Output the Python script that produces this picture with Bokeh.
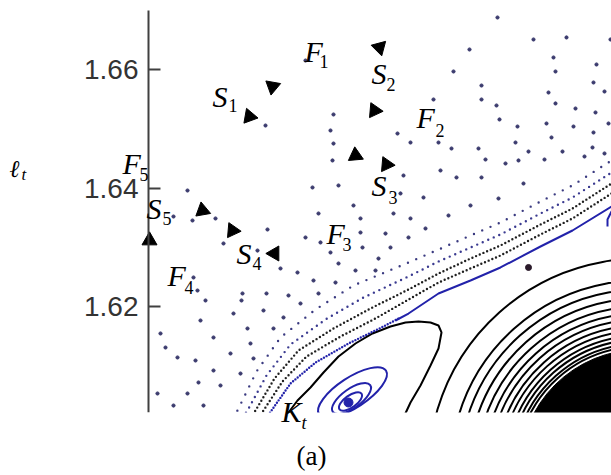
from bokeh.plotting import figure
from bokeh.models import Range1d, FixedTicker, Label, LinearAxis, BoxAnnotation
from bokeh.embed import file_html
from bokeh.resources import INLINE

# ---------------- data (x: unlabelled horizontal coordinate, l: ell_t) ----------------
# y-axis ticks and extent of the drawn axis
tick_values = [1.62, 1.64, 1.66]
tick_labels = ["1.62", "1.64", "1.66"]
axis_bounds = (1.60211, 1.66996)
axis_x = 148

# separatrix: dotted (blue) part and solid (blue) part
sep_dotted_x = [266, 271, 290, 315, 348, 381, 400]
sep_dotted_l = [1.60127, 1.60245, 1.60701, 1.61055, 1.61376, 1.61646, 1.61815]
sep_solid_x = [395, 408, 438, 470, 500, 540, 572, 611, 615]
sep_solid_l = [1.61764, 1.61882, 1.62220, 1.62439, 1.62659, 1.63013, 1.63283, 1.63688, 1.63739]

# dense orbits parallel to the separatrix
d2_x = [258, 263, 282, 306, 340, 375, 408, 438, 470, 500, 540, 572, 611, 615]
d2_l = [1.60127, 1.60245, 1.60735, 1.61156, 1.61494, 1.61798, 1.62118, 1.62405, 1.62642,
        1.62861, 1.63216, 1.63486, 1.63908, 1.63958]
d3_x = [250, 255, 274, 298, 333, 370, 408, 438, 470, 500, 540, 572, 611, 615]
d3_l = [1.60127, 1.60245, 1.60785, 1.61258, 1.61629, 1.61967, 1.62287, 1.62557, 1.62810,
        1.63030, 1.63384, 1.63654, 1.64076, 1.64127]
d4_x = [242, 247, 266, 290, 325, 363, 408, 438, 470, 500, 540, 572, 611, 615]
d4_l = [1.60127, 1.60245, 1.60836, 1.61359, 1.61781, 1.62152, 1.62507, 1.62760, 1.62996,
        1.63216, 1.63570, 1.63840, 1.64262, 1.64313]
d5_x = [231, 237, 256, 280, 315, 353, 408, 438, 470, 500, 540, 572, 611, 615]
d5_l = [1.60127, 1.60245, 1.60903, 1.61477, 1.61950, 1.62355, 1.62743, 1.62962, 1.63199,
        1.63418, 1.63773, 1.64043, 1.64465, 1.64515]

# sparse orbit points
sparse_x = [157, 173, 187, 198, 203, 220, 213, 230, 160, 165, 177, 195, 213, 200, 205, 197,
            193, 233, 247, 241, 266, 263, 250, 273, 283, 240, 253, 300, 318, 335, 355, 375,
            187, 173, 192, 215, 223, 257, 267, 280, 297, 242, 288, 265, 330, 333, 332, 312,
            338, 353, 318, 360, 305, 320, 330, 360, 362, 338, 313, 403, 400, 393, 385, 390,
            378, 410, 408, 425, 423, 440, 397, 410, 438, 333, 305,
            497, 533, 566, 610, 469, 553, 453, 555, 596, 481, 548, 593, 604, 433, 481, 496,
            555, 575, 595, 499, 517, 546, 573, 593, 608, 451, 478, 515, 528, 551, 562, 456,
            481, 505, 518, 485, 544, 584, 592, 604, 498, 523, 470, 448]
sparse_l = [1.60532, 1.60329, 1.60532, 1.60718, 1.60329, 1.60667, 1.60920, 1.61207, 1.61545,
            1.61308, 1.61140, 1.61089, 1.61477, 1.61764, 1.62102, 1.62270, 1.62490, 1.61882,
            1.61629, 1.62102, 1.62220, 1.61933, 1.61376, 1.61629, 1.61815, 1.60869, 1.61123,
            1.62051, 1.62220, 1.62405, 1.62608, 1.62608,
            1.63958, 1.63519, 1.63452, 1.63486, 1.63064, 1.62945, 1.63300, 1.62642, 1.62574,
            1.62220, 1.62186, 1.65055, 1.64971, 1.64751, 1.64465, 1.64009, 1.64043, 1.63705,
            1.63570, 1.63486, 1.63165, 1.63081, 1.62912, 1.63249, 1.62996, 1.62726, 1.62439,
            1.64211, 1.63908, 1.63570, 1.63232, 1.62996, 1.62810, 1.63486, 1.63165, 1.63317,
            1.63840, 1.64296, 1.64920, 1.64768, 1.64768, 1.65241, 1.66152,
            1.66878, 1.66507, 1.66541, 1.66507, 1.66338, 1.66203, 1.65967, 1.65967, 1.66085,
            1.65730, 1.65612, 1.65781, 1.65629, 1.65494, 1.65494, 1.65393, 1.65427, 1.65342,
            1.65275, 1.65157, 1.65038, 1.65089, 1.65038, 1.64937, 1.65089, 1.64667, 1.64667,
            1.64768, 1.64616, 1.64853, 1.64616, 1.64178, 1.64178, 1.64414, 1.64465, 1.64481,
            1.64481, 1.64532, 1.64684, 1.64583, 1.63823, 1.64076, 1.63705, 1.63536]

# black level curve around the blue island
loop_x = [284, 288, 297, 310, 323, 338, 355, 372, 390, 405, 418, 430, 438, 441, 438, 430,
          420, 410, 403]
loop_l = [1.60127, 1.60211, 1.60414, 1.60633, 1.60886, 1.61156, 1.61376, 1.61545, 1.61663,
          1.61730, 1.61747, 1.61730, 1.61680, 1.61562, 1.61291, 1.61005, 1.60667, 1.60380,
          1.60127]

# concentric black level curves around the lower-right centre
arc_cx = 640
arc_cl = 1.59232
arc_r = [212, 190, 181, 172, 164, 157, 151, 145, 140, 135, 131, 127, 124]
core_r = [121]

# blue island (nested closed curves)
isl_x = [352, 351, 350]
isl_l = [1.60549, 1.60448, 1.60397]
isl_w = [80, 46, 27]
isl_h = [30, 19, 12]
isl_a = [0.58, 0.62, 0.62]
isl_core_x = [348]
isl_core_l = [1.60380]

# small blue curve at the right edge and isolated point
hook_x = [607, 607, 611, 613]
hook_l = [1.63351, 1.63469, 1.63604, 1.63660]
pt_x = [528]
pt_l = [1.62659]

# flow-direction arrows near the saddles (direction in degrees, counter-clockwise)
arrow_x = [379, 374, 272, 249, 355, 386, 232, 274, 149, 202]
arrow_l = [1.66372, 1.65308, 1.65713, 1.65207, 1.64549, 1.64397, 1.63283, 1.62895,
           1.63114, 1.63621]
arrow_dir = [-75, -5, -100, 110, 95, 115, -5, 180, 90, 100]

# ---------------- figure ----------------
p = figure(width=611, height=475,
           x_range=Range1d(0, 611), y_range=Range1d(1.59148, 1.67165),
           output_backend="svg", toolbar_location=None,
           x_axis_location=None, y_axis_location=None,
           min_border_left=0, min_border_right=0, min_border_top=0, min_border_bottom=0)
p.xgrid.visible = False
p.ygrid.visible = False
p.outline_line_color = None
p.background_fill_color = "white"
p.border_fill_color = "white"

ax = LinearAxis(fixed_location=axis_x, bounds=axis_bounds)
ax.ticker = FixedTicker(ticks=tick_values)
ax.major_label_overrides = {v: t for v, t in zip(tick_values, tick_labels)}
ax.major_tick_in = 12
ax.major_tick_out = 0
ax.minor_tick_in = 0
ax.minor_tick_out = 0
ax.axis_line_width = 2
ax.axis_line_color = "#404040"
ax.major_tick_line_width = 2
ax.major_tick_line_color = "#404040"
ax.major_label_standoff = 10
ax.major_label_text_font = "Liberation Sans"
ax.major_label_text_font_size = "28px"
ax.major_label_text_color = "#333333"
p.add_layout(ax, "left")

BLUE = "#2222aa"
DOT = "#3b3b6e"

# contour arcs and dense core
p.circle(x=arc_cx, y=arc_cl, radius=core_r, fill_color="black", line_color="black")
p.arc(x=arc_cx, y=arc_cl, radius=arc_r, start_angle=1.2, end_angle=3.4,
      line_color="black", line_width=2)
p.line(loop_x, loop_l, line_color="black", line_width=2)

# blue island
p.ellipse(x=isl_x, y=isl_l, width=isl_w, height=isl_h, angle=isl_a,
          width_units="screen", height_units="screen",
          fill_color=None, line_color=BLUE, line_width=2)
p.scatter(isl_core_x, isl_core_l, size=9, color=BLUE)

# separatrix and dense orbits
p.line(sep_solid_x, sep_solid_l, line_color=BLUE, line_width=2)
p.line(hook_x, hook_l, line_color=BLUE, line_width=2)
p.line(sep_dotted_x, sep_dotted_l, line_color=BLUE, line_width=2.4, line_dash="0 3", line_cap="round")
p.line(d2_x, d2_l, line_color="#202020", line_width=2.4, line_dash="0 4", line_cap="round")
p.line(d3_x, d3_l, line_color="#202020", line_width=2.4, line_dash="0 4", line_cap="round")
p.line(d4_x, d4_l, line_color="#3a3a90", line_width=2.4, line_dash="0 6", line_cap="round")
p.line(d5_x, d5_l, line_color="#3a3a80", line_width=2.4, line_dash="0 9", line_cap="round")

# sparse orbit points
p.scatter(sparse_x, sparse_l, size=3.2, color=DOT)
p.scatter(pt_x, pt_l, size=6, color="#2a1a2a")

# arrows
p.scatter(arrow_x, arrow_l, marker="triangle", size=15, color="black",
          angle=[d - 90 for d in arrow_dir], angle_units="deg")

# the plotted region ends at the lower end of the axis
p.add_layout(BoxAnnotation(top=axis_bounds[0], fill_color="white", fill_alpha=1.0,
                           line_color=None))

# ---------------- text ----------------
def lab(txt, x, l, size, style="italic", align="left"):
    p.add_layout(Label(x=x, y=l, text=txt, text_font="Liberation Serif",
                       text_font_size=size, text_font_style=style, text_align=align,
                       text_baseline="middle", text_color="black"))

MAIN = "30px"
SUB = "18px"
for t, sub, x, l, sx, sl in [
    ("F", "1", 304, 1.66304, 319, 1.66135),
    ("S", "1", 212, 1.65545, 228, 1.65393),
    ("S", "2", 371, 1.65933, 386, 1.65747),
    ("F", "2", 416, 1.65182, 435, 1.64971),
    ("S", "3", 371, 1.64043, 388, 1.63848),
    ("F", "3", 326, 1.63232, 342, 1.63055),
    ("S", "4", 236, 1.62895, 252, 1.62718),
    ("F", "5", 122, 1.64414, 139, 1.64228),
    ("S", "5", 146, 1.63654, 162, 1.63486),
    ("F", "4", 167, 1.62524, 184, 1.62329),
    ("K", "t", 281, 1.60228, 301, 1.60034),
]:
    lab(t, x, l, MAIN)
    lab(sub, sx, sl, SUB, style="italic" if sub == "t" else "normal")

lab("\u2113", 9, 1.64321, "24px")
lab("t", 21, 1.64228, "17px")
lab("(a)", 311, 1.59469, "27px", style="normal", align="center")

open("out.html", "w").write(file_html(p, INLINE))
